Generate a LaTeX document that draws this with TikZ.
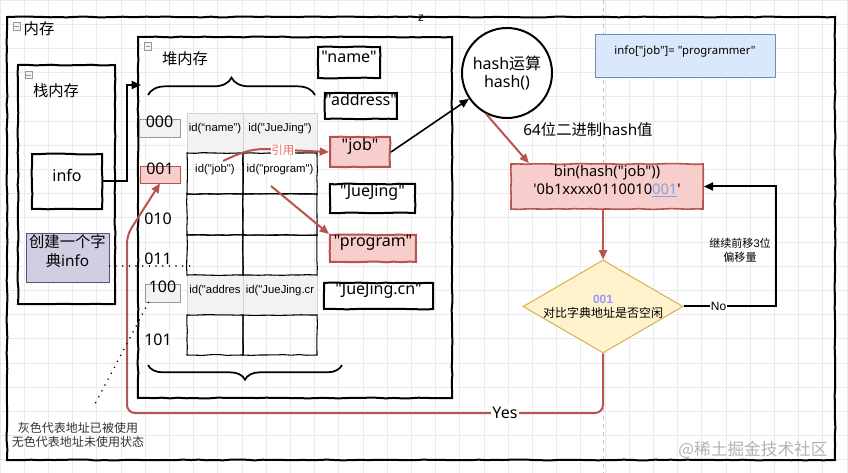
\documentclass[tikz,border=0pt]{standalone}
\usepackage{fontspec}
\newfontfamily\latf{Noto Sans}
\newfontfamily\cjk{Noto Sans CJK SC}
\newfontfamily\arialf{Liberation Sans}
\usetikzlibrary{arrows.meta,decorations.pathmorphing,decorations.pathreplacing,fit,calc,shapes.geometric}
\definecolor{redb}{HTML}{B85450}
\definecolor{pinkf}{HTML}{F8CECC}
\definecolor{grayf}{HTML}{F2F2F2}
\definecolor{lavf}{HTML}{D0CEE2}
\definecolor{lavb}{HTML}{56517E}
\definecolor{bluef}{HTML}{DAE8FC}
\definecolor{blueb}{HTML}{6C8EBF}
\definecolor{yelf}{HTML}{FFF2CC}
\definecolor{yelb}{HTML}{D6B656}
\definecolor{bluet}{HTML}{7EA6E0}
\definecolor{purp}{HTML}{9999FF}
\definecolor{reft}{HTML}{EA6B66}
\definecolor{gridc}{HTML}{EBEBEB}
\begin{document}
\begin{tikzpicture}[x=0.75pt,y=-0.75pt,
  sk/.style={decorate, decoration={random steps, segment length=6pt, amplitude=0.3pt}},
  bbox/.style={draw=black, line width=1.5pt, inner sep=0pt, sk},
  big/.style={font=\latf\fontsize{11.5}{13}\selectfont},
  strbox/.style={bbox, fill=white, font=\latf\fontsize{12}{13}\selectfont},
  pinkbox/.style={draw=redb, fill=pinkf, line width=1.5pt, inner sep=0pt, sk, font=\latf\fontsize{12}{13}\selectfont},
  addrg/.style={draw=gray!80, fill=grayf, line width=0.6pt, inner sep=0pt, font=\latf\fontsize{12}{13}\selectfont},
  addrp/.style={draw=redb, fill=pinkf, line width=0.6pt, inner sep=0pt, font=\latf\fontsize{12}{13}\selectfont},
  addr/.style={inner sep=0pt, font=\latf\fontsize{12}{13}\selectfont},
  cellw/.style={draw=black, line width=0.8pt, inner sep=0pt, sk, font=\arialf\fontsize{8.5}{10}\selectfont},
  cellg/.style={draw=gray!35, fill=grayf, line width=0.6pt, inner sep=0pt, font=\arialf\fontsize{8.5}{10}\selectfont},
  minus/.style={draw=gray!80, fill=gray!10, line width=0.5pt, minimum size=5.5pt, inner sep=0pt,
    path picture={\draw[line width=0.6pt] ([xshift=1.2pt]path picture bounding box.west) -- ([xshift=-1.2pt]path picture bounding box.east);}},
  redarr/.style={draw=redb, line width=1.5pt, -{Triangle[length=7pt,width=6pt]}},
  blkarr/.style={draw=black, line width=1.5pt, -{Triangle[length=7pt,width=6pt]}},
  dotline/.style={line width=1.3pt, line cap=round, dash pattern=on 0pt off 5pt},
]
\latf
\useasboundingbox (0,0) rectangle (848,473);
\fill[white] (0,0) rectangle (848,473);
% grid
\foreach \i in {0,...,35} \draw[gridc, line width=0.5pt] ({\i*24.2},0) -- ({\i*24.2},473);
\foreach \j in {0,...,19} \draw[gridc, line width=0.5pt] (0,{\j*24.2}) -- (848,{\j*24.2});
\draw[gray!45, dashed, line width=0.5pt] (603,0) -- (603,473);

% outer memory box
\node[bbox, fit={(7,17)(835,460)}] (mem) {};
\node[minus] (m1) at (16.5,26.5) {};
\node[big] (memt) at (39,29) {\cjk 内存};
\node[font=\latf\bfseries\fontsize{9}{10}\selectfont, inner sep=0pt] (zz) at (421,18.5) {z};

% stack box
\node[bbox, fit={(18,65)(115,304)}] (stack) {};
\node[minus] (m2) at (28.5,75) {};
\node[big] (stackt) at (56,91) {\cjk 栈内存};
\node[bbox, fit={(32,154)(102,209)}, font=\latf\fontsize{12}{13}\selectfont] (info) {info};
\node[draw=lavb, fill=lavf, line width=0.6pt, inner sep=0pt, fit={(26,233)(109,282)}, align=center, font=\latf\fontsize{11.5}{14}\selectfont] (cre) {{\cjk 创建一个字}\\{\cjk 典}info};

% heap box
\node[bbox, fit={(138,37)(452,398)}] (heap) {};
\node[minus] (m3) at (148,46.5) {};
\node[big] (heapt) at (185,59) {\cjk 堆内存};

% braces
\draw[line width=1.3pt, decorate, decoration={brace, amplitude=13pt}] (148,95) -- (315,95);
\draw[line width=1.3pt, decorate, decoration={brace, amplitude=11pt}] (342,365) -- (148,365);

% table
\node[cellg, fit={(187,113)(243,153)}] (c11) {id(“name”)};
\node[cellg, fit={(243,113)(317,153)}] (c12) {id("JueJing")};
\node[cellg, fit={(187,275)(243,315)}] (c51) {id("addres};
\node[cellg, fit={(243,275)(317,315)}] (c52) {id("JueJing.cr};
\node[cellw, fit={(187,153)(243,194)}] (c21) {id("job")};
\node[cellw, fit={(243,153)(317,194)}] (c22) {id("program")};
\node[cellw, fit={(187,194)(243,235)}] (c31) {};
\node[cellw, fit={(243,194)(317,235)}] (c32) {};
\node[cellw, fit={(187,235)(243,275)}] (c41) {};
\node[cellw, fit={(243,235)(317,275)}] (c42) {};
\node[cellw, fit={(187,315)(243,355)}] (c61) {};
\node[cellw, fit={(243,315)(317,355)}] (c62) {};

% addresses
\node[addrg, fit={(139,119)(180,137)}] (n000) {000};
\node[addrp, fit={(140,166)(180,183)}] (n001) {001};
\node[addr] (n010) at (158,219) {010};
\node[addr] (n011) at (158,259) {011};
\node[addrg, fit={(145,284)(180,302)}] (n100) {100};
\node[addr] (n101) at (158,340) {101};

% string boxes
\node[strbox, fit={(318,47)(380,78)}] (sname) {"name"};
\node[strbox, fit={(325,93)(397,119)}] (saddr) {"address"};
\node[pinkbox, fit={(330,137)(390,167)}] (job) {"job"};
\node[strbox, fit={(330,184)(415,213)}] (sjj) {"JueJing"};
\node[pinkbox, fit={(330,235)(416,262)}] (prog) {"program"};
\node[strbox, fit={(324,283)(433,309)}] (sjjcn) {"JueJing.cn"};

% hash circle
\node[circle, draw=black, fill=white, line width=1.5pt, minimum size=67.5pt, inner sep=0pt, align=center,
      font=\latf\fontsize{12}{14}\selectfont] (circ) at (507,73) {hash{\cjk 运算}\\hash()};
\node[draw=blueb, fill=bluef, line width=0.7pt, inner sep=0pt, fit={(595,34)(775,77)},
      font=\latf\fontsize{8.5}{10}\selectfont] (blue) {info["job"]= "programmer"};
\node[font=\latf\fontsize{11.5}{13}\selectfont] (lbl64) at (588,130) {64{\cjk 位二进制}hash{\cjk 值}};
\node[draw=redb, fill=pinkf, line width=1.2pt, inner sep=0pt, sk, fit={(511,164)(703,209)}, align=center,
      font=\latf\fontsize{11}{13.5}\selectfont] (bin) {bin(hash("job"))\\\textquotesingle 0b1xxxx0110010\textcolor{bluet}{\underline{001}}\textquotesingle};
\node[diamond, draw=yelb, fill=yelf, line width=0.8pt, minimum width=120pt, minimum height=69.75pt, inner sep=0pt] (dia) at (603,306.5) {};
\node[align=center, font=\latf\fontsize{9}{10.5}\selectfont] (diat) at (603,307) {\textcolor{purp}{\arialf\bfseries 001}\\{\cjk 对比字典地址是否空闲}};
\node[align=center, font=\arialf\fontsize{8.3}{10.5}\selectfont] (shift) at (740,250) {{\cjk 继续前移}3{\cjk 位}\\{\cjk 偏移量}};

% notes
\node[align=center, font=\cjk\fontsize{9}{10.5}\selectfont, text=black!80] (note) at (78,435) {灰色代表地址已被使用\\无色代表地址未使用状态};
\node[font=\cjk\fontsize{12.5}{14}\selectfont, text=gray!60] (wm) at (753,450) {@稀土掘金技术社区};

% connectors
\coordinate (heapin) at (141,85);
\draw[blkarr] (info.east) -- ++(24,0) |- (heapin);
\draw[draw=black, line width=1.2pt, -{Triangle[length=7pt,width=6pt]}] (job.east) -- (circ);
\draw[redarr] (circ.243) -- ([xshift=14pt]bin.north west);
\draw[redarr] (bin.south -| dia.north) -- (dia.north);
\draw[blkarr] (dia.east) -- node[pos=0.38, fill=white, inner sep=0.6pt, font=\arialf\fontsize{9}{10}\selectfont] {No} ++(92,0) |- (bin.east);
\draw[redarr, rounded corners=6pt] (dia.south) -- (603,413)
   -- node[pos=0.206, fill=white, inner sep=1pt, text=black, font=\latf\fontsize{12}{13}\selectfont] {Yes} (127,413)
   -- (127,235) -- (n001.south);
\coordinate (refA) at (223,161);
\draw[redarr] (refA) .. controls (240,153) and (250,149) .. (265,149)
   -- node[pos=0.28, fill=white, inner sep=0.5pt, text=reft, font=\cjk\fontsize{8.7}{10}\selectfont] {引用} (job.west);
\coordinate (refB) at (271,186);
\draw[redarr] (refB) -- (prog.north west);
\coordinate (dotA) at (192,266);
\draw[dotline] (cre.east |- dotA) -- (dotA);
\coordinate (dotB) at (95,404);
\draw[dotline] ([xshift=3pt]n100.south west) -- (dotB);
\end{tikzpicture}
\end{document}
